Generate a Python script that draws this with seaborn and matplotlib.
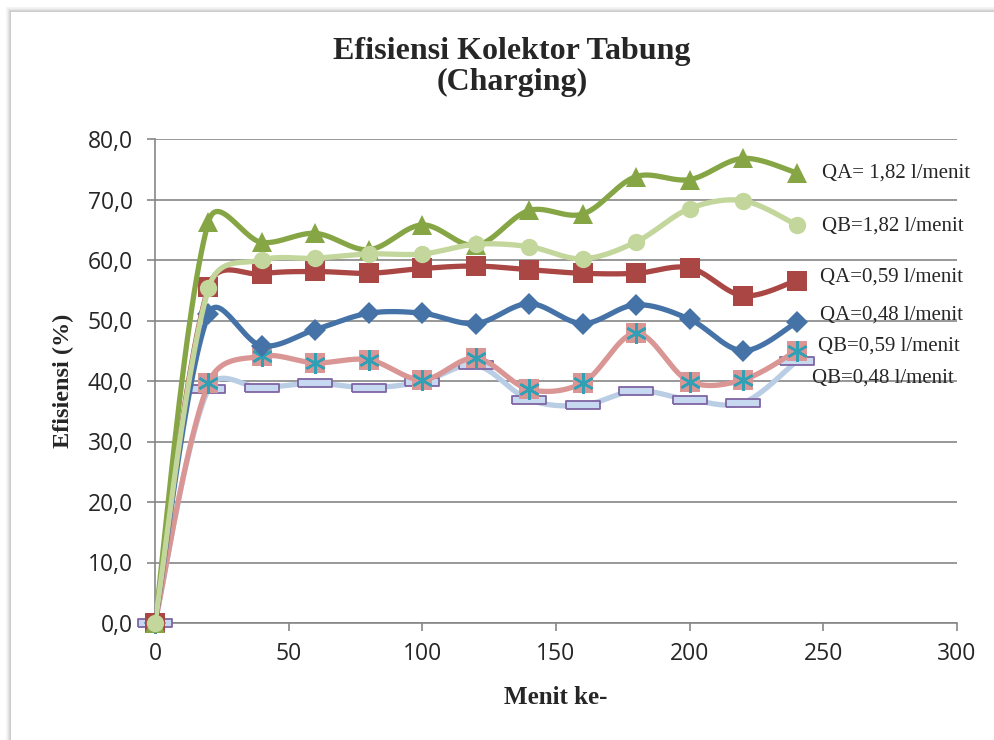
import numpy as np
import seaborn as sns
import matplotlib.pyplot as plt
from matplotlib.patches import Rectangle

menit = [0, 20, 40, 60, 80, 100, 120, 140, 160, 180, 200, 220, 240]

qa_182 = [0, 66.3, 62.9, 64.4, 61.7, 65.8, 62.4, 68.2, 67.6, 73.8, 73.3, 76.8, 74.4]
qb_182 = [0, 55.3, 60.0, 60.3, 61.0, 61.0, 62.6, 62.2, 60.2, 63.0, 68.5, 69.8, 65.8]
qa_059 = [0, 55.5, 57.7, 58.1, 57.8, 58.6, 59.0, 58.4, 57.8, 57.8, 58.7, 54.1, 56.6]
qa_048 = [0, 51.0, 45.8, 48.5, 51.2, 51.2, 49.5, 52.8, 49.5, 52.6, 50.2, 45.0, 49.7]
qb_059 = [0, 39.6, 44.1, 43.0, 43.5, 40.2, 43.8, 38.6, 39.7, 47.9, 39.9, 40.2, 45.0]
qb_048 = [0, 38.7, 38.9, 39.6, 38.9, 39.9, 42.6, 36.9, 36.0, 38.4, 36.9, 36.4, 43.3]

labels = ['QA= 1,82 l/menit', 'QB=1,82 l/menit', 'QA=0,59 l/menit',
          'QA=0,48 l/menit', 'QB=0,59 l/menit', 'QB=0,48 l/menit']

# pixels per data unit, used so the smoothing works in screen space
SX, SY = 802 / 300, 484 / 80


def smooth(x, y, n=30):
    # excel like smoothed line: bezier through the points, tangents weighted by segment length
    p = np.column_stack([np.asarray(x, float) * SX, np.asarray(y, float) * SY])
    m = len(p)
    d = np.hypot(*np.diff(p, axis=0).T)
    pts = []
    for i in range(m - 1):
        p0 = p[i - 1] if i > 0 else p[i]
        p3 = p[i + 2] if i + 2 < m else p[i + 1]
        d_prev = d[i - 1] if i > 0 else d[i]
        d_next = d[i + 1] if i + 2 < m else d[i]
        f1 = np.sqrt(2 * d[i] / (d_prev + d[i])) / 6
        f2 = np.sqrt(2 * d[i] / (d[i] + d_next)) / 6
        c1 = p[i] + (p[i + 1] - p0) * f1
        c2 = p[i + 1] - (p3 - p[i]) * f2
        t = np.linspace(0, 1, n)[:, None]
        seg = (1 - t) ** 3 * p[i] + 3 * (1 - t) ** 2 * t * c1 + 3 * (1 - t) * t ** 2 * c2 + t ** 3 * p[i + 1]
        pts.append(seg if i == 0 else seg[1:])
    pts = np.vstack(pts)
    return pts[:, 0] / SX, pts[:, 1] / SY


sns.set_style('white')
plt.rcParams['font.family'] = ['Liberation Serif', 'DejaVu Serif']

fig = plt.figure(figsize=(9.94, 7.40), dpi=100)
ax = fig.add_axes([155 / 994, 1 - 623 / 740, 802 / 994, 484 / 740])

# chart frame with a soft shadow (figure pixels)
for k, c in enumerate(['#c4c4c4', '#d8d8d8', '#e6e6e6', '#f2f2f2']):
    fig.patches.append(Rectangle((10 - k, -20), 1100, 740 - 11 + 20 + k,
                                 transform=fig.dpi_scale_trans.inverted() + fig.dpi_scale_trans,
                                 fill=False, edgecolor=c, linewidth=1.2))

bar_vertices = [(-2, -0.5), (2, -0.5), (2, 0.5), (-2, 0.5), (-2, -0.5)]

series = [
    (qb_048, '#b9cde5', bar_vertices, '#c6d9f1', '#7f64a2', 24, 1.3),
    (qb_059, '#d99694', 's', '#d99694', '#d99694', 15, 0),
    (qa_048, '#4572a7', 'D', '#4572a7', '#4572a7', 11, 0),
    (qa_059, '#aa4643', 's', '#aa4643', '#aa4643', 14.5, 0),
    (qa_182, '#86a646', '^', '#86a646', '#86a646', 15, 0),
    (qb_182, '#c3d69b', 'o', '#c3d69b', '#c3d69b', 12.5, 0),
]

for z, (vals, col, mk, fc, ec, ms, mew) in enumerate(series):
    sx, sy = smooth(menit, vals)
    ax.plot(sx, sy, color=col, linewidth=3.8, zorder=3 + z * 2, solid_capstyle='round')
    ax.plot(menit, vals, linestyle='none', marker=mk, markersize=ms, markerfacecolor=fc,
            markeredgecolor=ec, markeredgewidth=mew, zorder=4 + z * 2, clip_on=False)
    if vals is qb_059:
        ax.plot(menit, vals, linestyle='none', marker=(6, 2, 0), markersize=15,
                markeredgecolor='#31a0b5', markeredgewidth=1.8, zorder=4 + z * 2, clip_on=False)

label_x = [249.5, 249.5, 248.8, 248.8, 248.1, 245.9]
label_y = [74.3, 65.6, 57.2, 50.9, 45.8, 40.5]
for t, lx, ly in zip(labels, label_x, label_y):
    ax.text(lx, ly, t, fontsize=15, va='center', ha='left', clip_on=False, zorder=20)

ax.set_xlim(0, 300)
ax.set_ylim(0, 80)
ax.set_xticks(range(0, 301, 50))
ax.set_yticks(range(0, 81, 10))
ax.set_yticklabels([f'{v:.1f}'.replace('.', ',') for v in range(0, 81, 10)])
for lab in ax.get_xticklabels() + ax.get_yticklabels():
    lab.set_family(['Open Sans', 'DejaVu Sans'])
    lab.set_fontsize(16.5)
ax.tick_params(axis='y', direction='out', length=6, width=1.2, color='#868686', pad=10, left=True)
ax.tick_params(axis='x', direction='out', length=6, width=1.2, color='#868686', pad=8, bottom=True)
ax.yaxis.grid(True, color='#868686', linewidth=1.2)
ax.set_axisbelow(True)
sns.despine(ax=ax, top=True, right=True)
for s in ['left', 'bottom']:
    ax.spines[s].set_color('#868686')
    ax.spines[s].set_linewidth(1.2)

ax.set_ylabel('Efisiensi (%)', fontsize=17.5, fontweight='bold', labelpad=10)
ax.set_xlabel('Menit ke-', fontsize=18, fontweight='bold', labelpad=14)
fig.text(512 / 994, 1 - 67 / 740, 'Efisiensi Kolektor Tabung\n(Charging)', ha='center', va='center',
         fontsize=23, fontweight='bold', linespacing=1.1)

fig.savefig('out.png', dpi=100)
